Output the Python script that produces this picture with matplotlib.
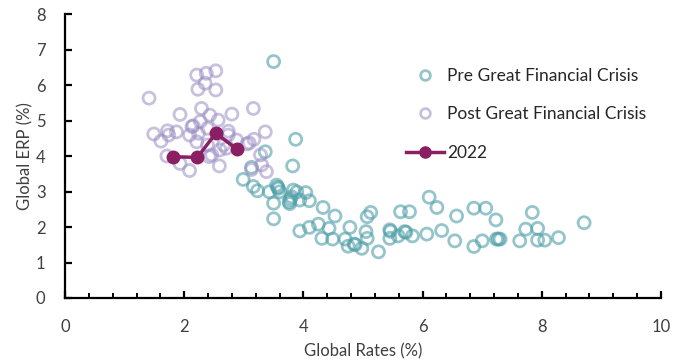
import matplotlib
matplotlib.use("Agg")
import matplotlib.pyplot as plt
from matplotlib.ticker import MultipleLocator
from matplotlib.lines import Line2D

plt.rcParams['font.family'] = ['Lato', 'DejaVu Sans']

# Pre Great Financial Crisis: (global rates %, global ERP %)
pre_rates = [3.50, 3.87, 3.36, 3.82, 2.99, 3.13, 3.16, 3.23, 3.43, 3.55, 3.58, 3.57,
             3.60, 3.80, 3.76, 3.77, 3.78, 3.83, 3.89, 4.04, 4.10, 3.94, 3.50, 3.50,
             4.33, 4.53, 4.43, 4.25, 4.10, 3.94, 4.31, 4.49, 4.70, 4.78, 4.75, 4.85,
             4.87, 4.98, 5.26, 5.05, 5.07, 5.07, 5.13, 5.45, 5.46, 5.45, 5.59, 5.63,
             5.78, 5.70, 5.72, 5.83, 6.07, 6.11, 6.24, 6.32, 6.57, 6.54, 6.86, 7.06,
             6.86, 7.00, 7.23, 7.24, 7.27, 7.30, 7.63, 7.73, 7.84, 7.93, 7.93, 8.05,
             8.28, 8.71]
pre_erp = [6.66, 4.47, 4.12, 3.72, 3.34, 3.68, 3.14, 3.02, 2.99, 3.18, 3.09, 3.12,
           2.99, 2.85, 2.71, 2.66, 2.78, 3.04, 2.99, 2.97, 2.74, 2.76, 2.67, 2.23,
           2.55, 2.31, 1.96, 2.08, 1.99, 1.89, 1.68, 1.66, 1.66, 1.99, 1.46, 1.52,
           1.50, 1.40, 1.30, 1.87, 1.68, 2.29, 2.41, 1.92, 1.88, 1.68, 1.75, 2.43,
           2.43, 1.87, 1.85, 1.75, 1.80, 2.84, 2.55, 1.90, 2.31, 1.61, 2.53, 2.53,
           1.45, 1.61, 2.20, 1.66, 1.66, 1.66, 1.61, 1.94, 2.41, 1.96, 1.63, 1.63,
           1.70, 2.12]

# Post Great Financial Crisis
post_rates = [1.41, 2.21, 2.37, 2.53, 2.35, 2.23, 2.53, 3.16, 2.29, 1.93, 2.43, 2.80,
              2.57, 2.27, 2.13, 2.15, 1.49, 1.72, 1.87, 1.74, 1.61, 2.09, 2.24, 2.39,
              2.74, 2.74, 2.88, 3.36, 3.17, 3.09, 3.05, 2.21, 2.39, 2.42, 2.46, 2.66,
              2.60, 2.71, 1.71, 1.93, 2.09, 2.59, 3.28, 3.30, 3.38, 3.13]
post_erp = [5.63, 6.28, 6.33, 6.40, 6.05, 5.88, 5.86, 5.34, 5.34, 5.17, 5.15, 5.18,
            5.01, 4.97, 4.83, 4.85, 4.62, 4.71, 4.68, 4.59, 4.42, 4.59, 4.64, 4.78,
            4.70, 4.59, 4.45, 4.68, 4.47, 4.37, 4.34, 4.40, 4.31, 3.98, 4.03, 4.31,
            4.17, 4.22, 4.00, 3.79, 3.59, 3.72, 4.03, 3.75, 3.56, 3.62]

# 2022 path
y2022_rates = [1.81, 2.22, 2.53, 2.88]
y2022_erp = [3.98, 3.96, 4.64, 4.20]

teal = "#4f9fa8"
lilac = "#9a8fc4"
plum = "#8a1f63"
text_col = "#404040"

fig = plt.figure(figsize=(6.85, 3.6), dpi=100)
ax = fig.add_axes([65 / 685, 62 / 360, 596 / 685, 284 / 360])

ax.scatter(pre_rates, pre_erp, s=75, facecolors="none", edgecolors=teal,
           linewidths=2.0, alpha=0.6, zorder=2)
ax.scatter(post_rates, post_erp, s=75, facecolors="none", edgecolors=lilac,
           linewidths=2.0, alpha=0.55, zorder=2)
ax.plot(y2022_rates, y2022_erp, color=plum, lw=2.5, marker="o", ms=9,
        markerfacecolor=plum, markeredgecolor=plum, zorder=3)

ax.set_xlim(0, 10)
ax.set_ylim(0, 8)
ax.xaxis.set_major_locator(MultipleLocator(2))
ax.xaxis.set_minor_locator(MultipleLocator(0.4))
ax.yaxis.set_major_locator(MultipleLocator(1))

for side in ("top", "right"):
    ax.spines[side].set_visible(False)
for side in ("left", "bottom"):
    ax.spines[side].set_linewidth(1.6)
    ax.spines[side].set_color("black")

ax.tick_params(axis="both", which="major", direction="in", length=5, width=1.6,
               labelsize=12, labelcolor=text_col)
ax.tick_params(axis="x", which="minor", direction="in", length=3.5, width=1.4)
ax.tick_params(axis="x", which="major", pad=15)
ax.tick_params(axis="y", pad=14)

ax.set_xlabel("Global Rates (%)", fontsize=12, color=text_col, labelpad=6)
ax.set_ylabel("Global ERP (%)", fontsize=12, color=text_col, labelpad=2)

handles = [
    Line2D([], [], ls="none", marker="o", ms=7, markerfacecolor="none",
           markeredgecolor=teal, markeredgewidth=2.0, alpha=0.6),
    Line2D([], [], ls="none", marker="o", ms=7, markerfacecolor="none",
           markeredgecolor=lilac, markeredgewidth=2.0, alpha=0.55),
    Line2D([], [], color=plum, lw=2.5, marker="o", ms=8, markerfacecolor=plum),
]
labels = ["Pre Great Financial Crisis", "Post Great Financial Crisis", "2022"]
leg = ax.legend(handles, labels, loc="upper left", bbox_to_anchor=(0.56, 0.835),
                frameon=False, fontsize=12.5, labelspacing=1.3, handlelength=2.2,
                handletextpad=0.2, borderaxespad=0)
for t in leg.get_texts():
    t.set_color("#262626")

fig.savefig("out.png", dpi=100)
